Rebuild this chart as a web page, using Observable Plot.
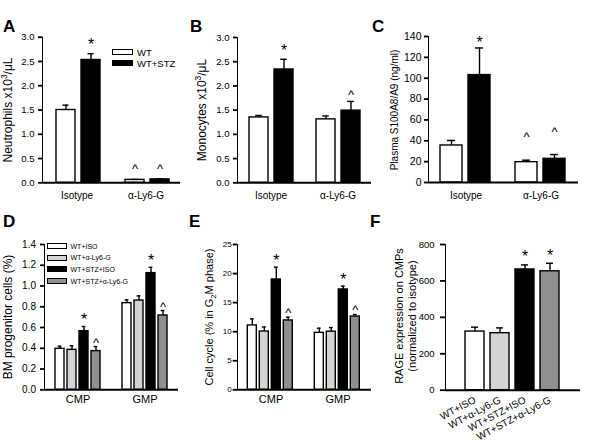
<!DOCTYPE html>
<html><head><meta charset="utf-8">
<script src="https://cdn.jsdelivr.net/npm/d3@7"></script>
<script src="https://cdn.jsdelivr.net/npm/@observablehq/plot@0.6"></script>
<style>
body{margin:0;background:#fff;}
#fig{position:relative;width:601px;height:447px;overflow:hidden;font-family:"Liberation Sans",Arial,sans-serif;color:#000;background:#fff;}
.panel{position:absolute;}
.letter{position:absolute;font-weight:bold;font-size:17px;line-height:1;}
.ylab{position:absolute;white-space:nowrap;transform:translate(-50%,-50%) rotate(-90deg);text-align:center;}
.ylab sup,.ylab sub{font-size:70%;line-height:0;}
.leg{position:absolute;white-space:nowrap;}
.leg .row{display:flex;align-items:center;}
.sw{display:inline-block;box-sizing:border-box;border:1.2px solid #000;}
</style></head><body><div id="fig"></div>
<script>
// ---------- data ----------
const groupsTop = ["Isotype", "α-Ly6-G"];
const seriesTop = ["WT", "WT+STZ"];
const colorsTop = ["#ffffff", "#000000"];

const neutroMean = [1.50, 2.53, 0.06, 0.07];
const neutroSem  = [0.10, 0.13, 0.01, 0.01];
const neutroSig  = ["", "*", "^", "^"];
const neutroTicks = [0, 0.5, 1.0, 1.5, 2.0, 2.5, 3.0];

const monoMean = [1.35, 2.34, 1.31, 1.49];
const monoSem  = [0.04, 0.21, 0.07, 0.19];
const monoSig  = ["", "*", "", "^"];
const monoTicks = [0, 0.5, 1.0, 1.5, 2.0, 2.5, 3.0];

const s100Mean = [35.5, 103, 19.5, 22.7];
const s100Sem  = [4.8, 26, 1.9, 4.1];
const s100Sig  = ["", "*", "^", "^"];
const s100Ticks = [0, 20, 40, 60, 80, 100, 120, 140];

const groupsBottom = ["CMP", "GMP"];
const seriesBottom = ["WT+ISO", "WT+α-Ly6-G", "WT+STZ+ISO", "WT+STZ+α-Ly6-G"];
const colorsBottom = ["#ffffff", "#d4d4d4", "#000000", "#8f8f8f"];

const bmMean = [0.395, 0.385, 0.565, 0.373, 0.835, 0.86, 1.124, 0.716];
const bmSem  = [0.025, 0.04, 0.045, 0.044, 0.032, 0.045, 0.056, 0.048];
const bmSig  = ["", "", "*", "^", "", "", "*", "^"];
const bmTicks = [0, 0.2, 0.4, 0.6, 0.8, 1.0, 1.2, 1.4];

const ccMean = [11.07, 10.03, 18.98, 11.93, 9.8, 10.0, 17.26, 12.6];
const ccSem  = [1.13, 0.77, 2.12, 0.57, 0.8, 0.7, 0.57, 0.36];
const ccSig  = ["", "", "*", "^", "", "", "*", "^"];
const ccTicks = [0, 5, 10, 15, 20, 25];

const rageMean = [322, 313, 663, 653];
const rageSem  = [24, 29, 25, 44];
const rageSig  = ["", "", "*", "*"];
const rageTicks = [0, 200, 400, 600, 800];

// ---------- helpers ----------
const FONT = '"Liberation Sans", Arial, sans-serif';
const fig = document.getElementById("fig");

function rowsOf(groups, series, mean, sem, sig) {
  return groups.flatMap((g, i) => series.map((s, j) => {
    const k = i * series.length + j;
    return {group: g, series: s, mean: mean[k], top: mean[k] + sem[k], sig: sig[k]};
  }));
}

function place(el, left, top) {
  el.classList.add("panel");
  el.style.left = left + "px";
  el.style.top = top + "px";
  fig.appendChild(el);
}

function styleAxes(svg, fxFont, xFont) {
  svg.querySelectorAll('[aria-label^="y-axis"]').forEach(g => {
    g.setAttribute("stroke-width", "1.8");
    g.querySelectorAll("path,line").forEach(p => p.setAttribute("stroke-width", "1.8"));
  });
  if (fxFont) svg.querySelectorAll('[aria-label^="fx-axis"]').forEach(g => {
    g.setAttribute("font-size", fxFont);
    g.querySelectorAll("text").forEach(t => t.setAttribute("font-size", fxFont));
  });
  if (xFont) svg.querySelectorAll('[aria-label^="x-axis"]').forEach(g => {
    g.setAttribute("font-size", xFont);
    g.querySelectorAll("text").forEach(t => t.setAttribute("font-size", xFont));
  });
}

function sigMarks(rows, c) {
  return [
    Plot.text(rows, {filter: d => d.sig === "*", x: "series", y: "top", text: "sig",
      lineAnchor: "bottom", dy: c.starDy, fontSize: 16}),
    Plot.text(rows, {filter: d => d.sig === "^", x: "series", y: "top", text: "sig",
      lineAnchor: "bottom", dy: c.caretDy, fontSize: 13})
  ];
}

function grouped(c) {
  const rows = rowsOf(c.groups, c.series, c.mean, c.sem, c.sig);
  const svg = Plot.plot({
    width: c.w, height: c.h,
    marginLeft: c.ml, marginRight: c.mr, marginTop: c.mt, marginBottom: c.mb,
    style: {fontFamily: FONT, fontSize: c.tickFont + "px", background: "transparent", color: "#000", overflow: "visible"},
    facet: {data: rows, x: "group"},
    fx: {domain: c.groups, padding: 0, axis: "bottom", label: null, tickSize: 0, tickPadding: c.fxPad},
    x: {domain: c.series, axis: null, paddingInner: c.pi, paddingOuter: c.po, align: c.align},
    y: {domain: c.ydomain, ticks: c.yticks, tickFormat: c.fmt, tickSize: c.tickSize, tickPadding: c.tickPad, label: null, line: true},
    color: {domain: c.series, range: c.colors},
    marks: [
      Plot.barY(rows, {x: "series", y: "mean", fill: "series", stroke: "#000", strokeWidth: 1.4}),
      Plot.ruleX(rows, {x: "series", y1: "mean", y2: "top", stroke: "#000", strokeWidth: 1.4}),
      Plot.tickY(rows, {x: "series", y: "top", insetLeft: c.capInset, insetRight: c.capInset, stroke: "#000", strokeWidth: 1.4}),
      ...sigMarks(rows, c),
      Plot.ruleY([0], {stroke: "#000", strokeWidth: 2})
    ]
  });
  styleAxes(svg, c.fxFont, null);
  place(svg, c.left, c.top);
}

function letter(t, x, top) {
  const d = document.createElement("div");
  d.className = "letter"; d.textContent = t;
  d.style.left = x + "px"; d.style.top = top + "px";
  fig.appendChild(d);
}
function ylab(html, cx, cy, size, lh) {
  const d = document.createElement("div");
  d.className = "ylab"; d.innerHTML = html;
  d.style.left = cx + "px"; d.style.top = cy + "px";
  d.style.fontSize = size + "px";
  d.style.lineHeight = (lh || size * 1.15) + "px";
  fig.appendChild(d);
}
function legend(labels, colors, left, top, c) {
  const d = document.createElement("div");
  d.className = "leg";
  d.style.left = left + "px"; d.style.top = top + "px";
  d.style.fontSize = c.font + "px";
  labels.forEach((l, i) => {
    const r = document.createElement("div");
    r.className = "row"; r.style.height = c.pitch + "px";
    const s = document.createElement("span");
    s.className = "sw";
    s.style.width = c.bw + "px"; s.style.height = c.bh + "px";
    s.style.background = colors[i]; s.style.marginRight = c.gap + "px";
    const t = document.createElement("span"); t.textContent = l;
    r.appendChild(s); r.appendChild(t); d.appendChild(r);
  });
  fig.appendChild(d);
}

// ---------- panel A ----------
grouped({left: 0, top: 0, w: 190, h: 205, ml: 41, mr: 10, mt: 36.7, mb: 22.7,
  groups: groupsTop, series: seriesTop, colors: colorsTop,
  mean: neutroMean, sem: neutroSem, sig: neutroSig,
  ydomain: [0, 3], yticks: neutroTicks, fmt: ".1f", tickFont: 9.5, tickSize: 4, tickPad: 4,
  pi: 0.23, po: 0.45, align: 0.55, capInset: 6.5, fxPad: 9, fxFont: "10px",
  starDy: -3.4, caretDy: -6});
// ---------- panel B ----------
grouped({left: 195, top: 0, w: 185, h: 205, ml: 41, mr: 9, mt: 37, mb: 22.7,
  groups: groupsTop, series: seriesTop, colors: colorsTop,
  mean: monoMean, sem: monoSem, sig: monoSig,
  ydomain: [0, 3], yticks: monoTicks, fmt: ".1f", tickFont: 9.5, tickSize: 4, tickPad: 4,
  pi: 0.25, po: 0.423, align: 0.5, capInset: 6.25, fxPad: 9, fxFont: "10px",
  starDy: -3.2, caretDy: -2});
// ---------- panel C ----------
grouped({left: 390, top: 0, w: 211, h: 205, ml: 38, mr: 23, mt: 36, mb: 23,
  groups: groupsTop, series: seriesTop, colors: colorsTop,
  mean: s100Mean, sem: s100Sem, sig: s100Sig,
  ydomain: [0, 140], yticks: s100Ticks, fmt: "d", tickFont: 10.5, tickSize: 4, tickPad: 3,
  pi: 0.214, po: 0.446, align: 0.5, capInset: 7, fxPad: 9, fxFont: "10px",
  starDy: 0.5, caretDy: -19});
// ---------- panel D ----------
grouped({left: 0, top: 220, w: 190, h: 200, ml: 43, mr: 12, mt: 24, mb: 30.7,
  groups: groupsBottom, series: seriesBottom, colors: colorsBottom,
  mean: bmMean, sem: bmSem, sig: bmSig,
  ydomain: [0, 1.4], yticks: bmTicks, fmt: ".1f", tickFont: 10, tickSize: 4, tickPad: 4.5,
  pi: 0.215, po: 0.70, align: 0.5, capInset: 2.6, fxPad: 5.5, fxFont: "11px",
  starDy: -1.2, caretDy: 0});
// ---------- panel E ----------
grouped({left: 195, top: 220, w: 185, h: 200, ml: 41.7, mr: 8.3, mt: 24, mb: 30.7,
  groups: groupsBottom, series: seriesBottom, colors: colorsBottom,
  mean: ccMean, sem: ccSem, sig: ccSig,
  ydomain: [0, 25], yticks: ccTicks, fmt: "d", tickFont: 8, tickSize: 4.3, tickPad: 1.5,
  pi: 0.215, po: 0.70, align: 0.5, capInset: 2.6, fxPad: 5.5, fxFont: "11px",
  starDy: -0.7, caretDy: 0});
// ---------- panel F ----------
(function () {
  const rows = seriesBottom.map((s, i) => ({series: s, mean: rageMean[i], top: rageMean[i] + rageSem[i], sig: rageSig[i]}));
  const c = {starDy: -2.5, caretDy: 0};
  const svg = Plot.plot({
    width: 211, height: 227, marginLeft: 55, marginRight: 21, marginTop: 24, marginBottom: 57.3,
    style: {fontFamily: FONT, fontSize: "9.5px", background: "transparent", color: "#000", overflow: "visible"},
    x: {domain: seriesBottom, paddingInner: 0.237, paddingOuter: 0.787, tickRotate: -28, tickSize: 0, tickPadding: 9, label: null},
    y: {domain: [0, 800], ticks: rageTicks, tickFormat: "d", tickSize: 5, tickPadding: 6, label: null, line: true},
    color: {domain: seriesBottom, range: colorsBottom},
    marks: [
      Plot.barY(rows, {x: "series", y: "mean", fill: "series", stroke: "#000", strokeWidth: 1.4}),
      Plot.ruleX(rows, {x: "series", y1: "mean", y2: "top", stroke: "#000", strokeWidth: 1.4}),
      Plot.tickY(rows, {x: "series", y: "top", insetLeft: 6, insetRight: 6, stroke: "#000", strokeWidth: 1.4}),
      ...sigMarks(rows, c),
      Plot.ruleY([0], {stroke: "#000", strokeWidth: 2})
    ]
  });
  styleAxes(svg, null, "10px");
  place(svg, 390, 220);
})();

// ---------- letters, axis titles, legends ----------
letter("A", 3, 17.6); letter("B", 190, 17.6); letter("C", 372, 17.6);
letter("D", 3, 212.6); letter("E", 189, 212.6); letter("F", 370, 212.6);

ylab("Neutrophils x10<sup>3</sup>/μL", 8.5, 109.5, 12);
ylab("Monocytes x10<sup>3</sup>/μL", 203, 110, 12);
ylab("Plasma S100A8/A9 (ng/ml)", 395, 110, 10);
ylab("BM progenitor cells (%)", 8.5, 316.5, 12);
ylab("Cell cycle (% in G<sub>2</sub>M phase)", 209, 316.5, 11);
ylab("RAGE expression on CMPs<br>(normalized to isotype)", 405, 316, 11, 12.5);

legend(seriesTop, colorsTop, 112, 46.5, {font: 9.5, pitch: 11, bw: 21, bh: 6, gap: 4});
legend(seriesBottom, colorsBottom, 47, 240.2, {font: 7, pitch: 11.7, bw: 20, bh: 6, gap: 3.5});
</script>
</body></html>
